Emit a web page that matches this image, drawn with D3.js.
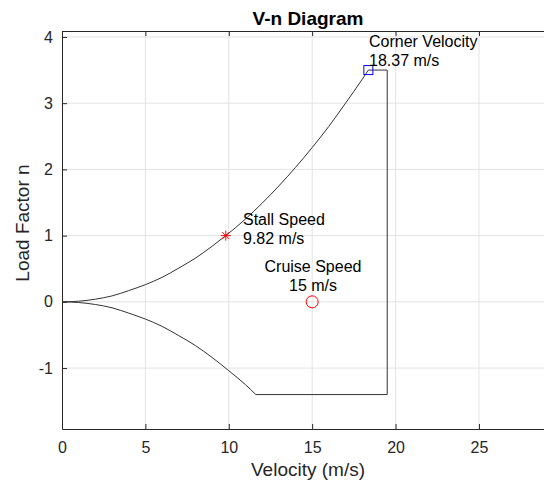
<!DOCTYPE html>
<html>
<head>
<meta charset="utf-8">
<script src="https://cdn.jsdelivr.net/npm/d3@7"></script>
<style>
  body { margin: 0; background: #fff; }
  svg { display: block; font-family: "Liberation Sans", Arial, sans-serif; }
</style>
</head>
<body>
<script>
// data
var posV = [0, 1, 2, 3, 4, 5, 6, 7, 8, 9, 9.82, 11, 12, 13, 14, 15, 16, 17, 18, 18.37];
var posN = [0, 0.01, 0.04, 0.09, 0.17, 0.26, 0.37, 0.51, 0.66, 0.84, 1.0, 1.25, 1.49, 1.75, 2.03, 2.33, 2.65, 3.0, 3.36, 3.5];
var boxV = [18.37, 19.5, 19.5, 11.62];
var boxN = [3.5, 3.5, -1.4, -1.4];
var negV = [11.62, 11, 10, 9, 8, 7, 6, 5, 4, 3, 2, 1, 0];
var negN = [-1.4, -1.25, -1.04, -0.84, -0.66, -0.51, -0.37, -0.26, -0.17, -0.09, -0.04, -0.01, 0];
var xTicks = [0, 5, 10, 15, 20, 25];
var yTicks = [-1, 0, 1, 2, 3, 4];
var stall = {v: 9.82, n: 1, label: ["Stall Speed", "9.82 m/s"]};
var cruise = {v: 15, n: 0, label: ["Cruise Speed", "15 m/s"]};
var corner = {v: 18.37, n: 3.5, label: ["Corner Velocity", "18.37 m/s"]};

var W = 544, H = 484;
var x = d3.scaleLinear().domain([0, 29.5]).range([62, 554]);
var y = d3.scaleLinear().domain([-1.92, 4.09]).range([429, 31]);

var svg = d3.select("body").append("svg")
  .attr("width", W)
  .attr("height", H);

// grid
svg.append("g").selectAll("line").data(xTicks.slice(1)).enter().append("line")
  .attr("x1", function(d) { return x(d); }).attr("x2", function(d) { return x(d); })
  .attr("y1", y.range()[0]).attr("y2", y.range()[1])
  .attr("stroke", "#e3e3e3").attr("stroke-width", 1);
svg.append("g").selectAll("line").data(yTicks).enter().append("line")
  .attr("x1", x.range()[0]).attr("x2", x.range()[1])
  .attr("y1", function(d) { return y(d); }).attr("y2", function(d) { return y(d); })
  .attr("stroke", "#e3e3e3").attr("stroke-width", 1);

// axes (MATLAB style, inward ticks)
var axColor = "#262626";
var fmt = function(d) { return String(d); };
var xAxis = svg.append("g")
  .attr("transform", "translate(0," + y.range()[0] + ")")
  .call(d3.axisBottom(x).tickValues(xTicks).tickFormat(fmt).tickSizeInner(-5).tickSizeOuter(0).tickPadding(13));
var xTop = svg.append("g")
  .attr("transform", "translate(0," + y.range()[1] + ")")
  .call(d3.axisTop(x).tickValues(xTicks).tickSizeInner(-5).tickSizeOuter(0).tickFormat(""));
var yAxis = svg.append("g")
  .attr("transform", "translate(" + x.range()[0] + ",0)")
  .call(d3.axisLeft(y).tickValues(yTicks).tickFormat(fmt).tickSizeInner(-5).tickSizeOuter(0).tickPadding(9));
[xAxis, xTop, yAxis].forEach(function(g) {
  g.select(".domain").attr("stroke", axColor);
  g.selectAll(".tick line").attr("stroke", axColor);
  g.selectAll("text").attr("fill", axColor).style("font-size", "16px")
    .style("font-family", "'Liberation Sans', Arial, sans-serif");
});

// envelope
var line = d3.line()
  .x(function(d) { return x(d[0]); })
  .y(function(d) { return y(d[1]); });
var pos = posV.map(function(v, i) { return [v, posN[i]]; });
var box = boxV.map(function(v, i) { return [v, boxN[i]]; });
var neg = negV.map(function(v, i) { return [v, negN[i]]; });
[pos, box, neg].forEach(function(d) {
  svg.append("path").datum(d)
    .attr("d", line.curve(d === box ? d3.curveLinear : d3.curveMonotoneX))
    .attr("fill", "none")
    .attr("stroke", "#333")
    .attr("stroke-width", 1);
});

// markers
var sx = x(stall.v), sy = y(stall.n), r = 5;
var star = svg.append("g").attr("stroke", "#ff0000").attr("stroke-width", 1);
star.append("line").attr("x1", sx - r).attr("x2", sx + r).attr("y1", sy).attr("y2", sy);
star.append("line").attr("x1", sx).attr("x2", sx).attr("y1", sy - r).attr("y2", sy + r);
star.append("line").attr("x1", sx - 3.5).attr("x2", sx + 3.5).attr("y1", sy - 3.5).attr("y2", sy + 3.5);
star.append("line").attr("x1", sx - 3.5).attr("x2", sx + 3.5).attr("y1", sy + 3.5).attr("y2", sy - 3.5);

svg.append("circle")
  .attr("cx", x(cruise.v)).attr("cy", y(cruise.n)).attr("r", 6)
  .attr("fill", "none").attr("stroke", "#ff0000").attr("stroke-width", 1);

svg.append("rect")
  .attr("x", x(corner.v) - 4.5).attr("y", y(corner.n) - 4.5)
  .attr("width", 9).attr("height", 9)
  .attr("fill", "none").attr("stroke", "#0000ff").attr("stroke-width", 1);

// annotations
function label(lines, px, py, anchor) {
  var t = svg.append("text")
    .attr("x", px).attr("y", py)
    .attr("text-anchor", anchor)
    .attr("fill", "#000")
    .style("font-size", "16px");
  lines.forEach(function(s, i) {
    t.append("tspan").attr("x", px).attr("dy", i === 0 ? 0 : 18.5).text(s);
  });
}
label(corner.label, 369, 47, "start");
label(stall.label, 243, 225, "start");
label(cruise.label, 313, 272, "middle");

// title and axis labels
svg.append("text")
  .attr("x", (x.range()[0] + x.range()[1]) / 2).attr("y", 25)
  .attr("text-anchor", "middle")
  .style("font-size", "19px").style("font-weight", "bold")
  .attr("fill", "#000")
  .text("V-n Diagram");
svg.append("text")
  .attr("x", (x.range()[0] + x.range()[1]) / 2).attr("y", 476)
  .attr("text-anchor", "middle")
  .style("font-size", "19px")
  .attr("fill", axColor)
  .text("Velocity (m/s)");
svg.append("text")
  .attr("transform", "translate(29,223) rotate(-90)")
  .attr("text-anchor", "middle")
  .style("font-size", "19px")
  .attr("fill", axColor)
  .text("Load Factor n");
</script>
</body>
</html>
